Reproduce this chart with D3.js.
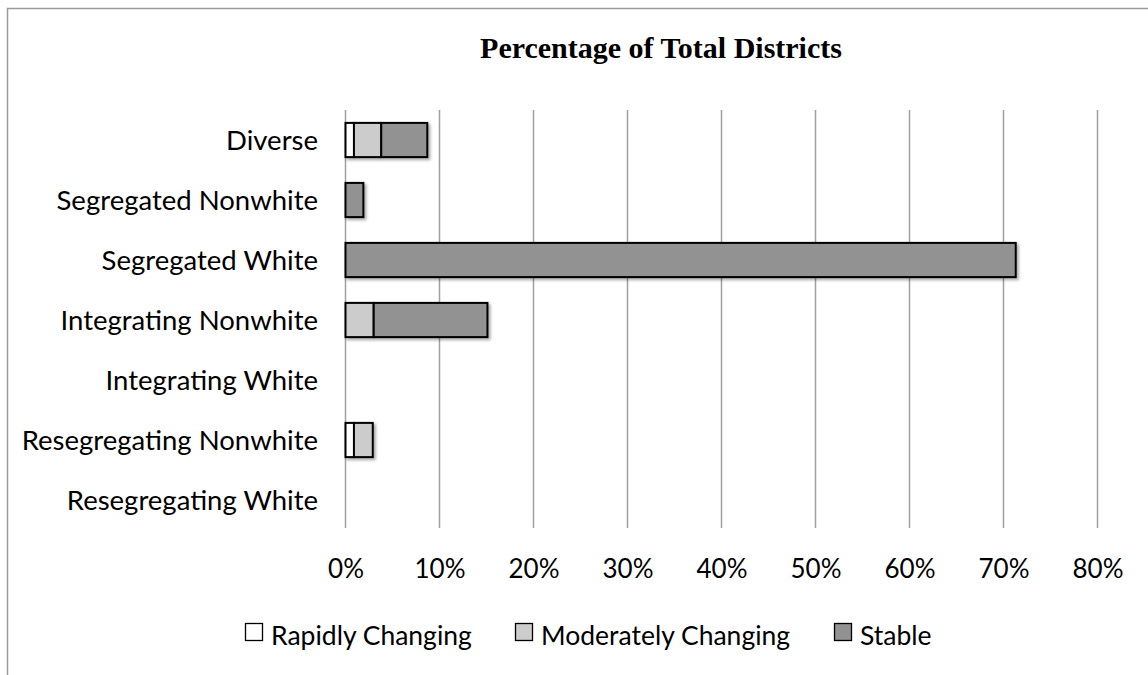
<!DOCTYPE html>
<html><head><meta charset="utf-8">
<script src="https://cdn.jsdelivr.net/npm/d3@7"></script>
<style>body{margin:0;background:#fff}svg{display:block}</style>
</head><body>
<svg id="c" width="1148" height="675"></svg>
<script>
const categories = ["Diverse","Segregated Nonwhite","Segregated White","Integrating Nonwhite","Integrating White","Resegregating Nonwhite","Resegregating White"];
const seriesNames = ["Rapidly Changing","Moderately Changing","Stable"];
const rapidly = [0.9, 0, 0, 0, 0, 0.9, 0];
const moderately = [2.9, 0, 0, 3.0, 0, 2.0, 0];
const stable = [4.9, 1.9, 71.3, 12.1, 0, 0, 0];
const seriesColors = ["#ffffff","#cccccc","#929292"];
const xTicks = [0,10,20,30,40,50,60,70,80];

const FONT = "Lato, 'Open Sans', sans-serif";
const svg = d3.select("#c");
const defs = svg.append("defs");
const f = defs.append("filter").attr("id","sh").attr("x","-10%").attr("y","-20%").attr("width","130%").attr("height","160%");
f.append("feDropShadow").attr("dx",2).attr("dy",2).attr("stdDeviation",1.5).attr("flood-color","#000").attr("flood-opacity",0.35);

// outer border
svg.append("path").attr("d","M7.5,675 L7.5,8.5 L1148,8.5").attr("fill","none").attr("stroke","#9a9a9a").attr("stroke-width",1.5);

const x = d3.scaleLinear().domain([0,80]).range([345.5,1097.5]);
const y = d3.scaleBand().domain(categories).range([110,530]).paddingInner(0.43).paddingOuter(0.215);

// gridlines
svg.append("g").selectAll("line").data(xTicks).join("line")
  .attr("x1",d=>x(d)).attr("x2",d=>x(d)).attr("y1",110).attr("y2",528)
  .attr("stroke","#a0a0a0").attr("stroke-width",1.5);

// x axis labels
const xa = svg.append("g").attr("transform","translate(0,578)")
  .call(d3.axisBottom(x).tickValues(xTicks).tickFormat(d=>d+"%").tickSize(0).tickPadding(0));
xa.select(".domain").remove();
xa.selectAll("text").attr("font-family",FONT).attr("font-size",26).attr("fill","#000").attr("dy","0");

// y axis labels
const ya = svg.append("g").attr("transform","translate(318,0)")
  .call(d3.axisLeft(y).tickSize(0).tickPadding(0));
ya.select(".domain").remove();
ya.selectAll("text").attr("font-family",FONT).attr("font-size",27.5).attr("fill","#000").attr("dy","0.35em");

// stacked bars
const rows = categories.map((c,i)=>({cat:c, vals:[rapidly[i],moderately[i],stable[i]]}));
const segs = [];
rows.forEach(r=>{let acc=0; r.vals.forEach((v,j)=>{ if(v>0){segs.push({cat:r.cat,x0:acc,x1:acc+v,j}); } acc+=v;});});
svg.append("g").attr("filter","url(#sh)").selectAll("rect").data(segs).join("rect")
  .attr("x",d=>x(d.x0)).attr("width",d=>x(d.x1)-x(d.x0))
  .attr("y",d=>y(d.cat)).attr("height",y.bandwidth())
  .attr("fill",d=>seriesColors[d.j]).attr("stroke","#000").attr("stroke-width",2);

// title
svg.append("text").attr("x",661).attr("y",58).attr("text-anchor","middle")
  .attr("font-family","'Liberation Serif','Times New Roman',serif").attr("font-weight","bold").attr("font-size",30)
  .text("Percentage of Total Districts");

// legend
const legX = [245, 515, 834];
const lg = svg.append("g").selectAll("g").data(seriesNames).join("g")
  .attr("transform",(d,i)=>`translate(${legX[i]},0)`);
lg.append("rect").attr("x",0.5).attr("y",623.5).attr("width",17).attr("height",17)
  .attr("fill",(d,i)=>seriesColors[i]).attr("stroke","#000").attr("stroke-width",1.3);
lg.append("text").attr("x",26).attr("y",645).attr("font-family",FONT).attr("font-size",26.5).text(d=>d);
</script>
</body></html>
